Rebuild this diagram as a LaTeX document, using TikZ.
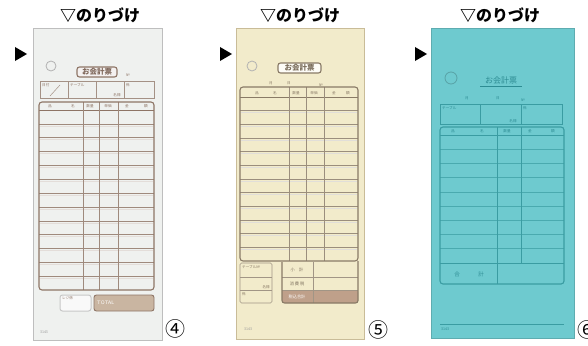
\documentclass[tikz,border=0pt]{standalone}
\usepackage{fontspec}
\newfontfamily\jp{Noto Sans CJK JP}
\definecolor{pfour}{HTML}{EFF1EF}
\definecolor{bfour}{HTML}{BEBEBE}
\definecolor{lfour}{HTML}{8E7566}
\definecolor{ffour}{HTML}{C9B5A1}
\definecolor{pfive}{HTML}{F2EBCB}
\definecolor{bfive}{HTML}{C9BC98}
\definecolor{lfive}{HTML}{897A66}
\definecolor{ffive}{HTML}{BFA08A}
\definecolor{psix}{HTML}{6ECACF}
\definecolor{lsix}{HTML}{3A9CA2}
\definecolor{tsix}{HTML}{2D8C93}
\tikzset{
  lab/.style={font=\jp\fontsize{3.6}{4}\selectfont, inner sep=0pt},
  ttl/.style={font=\jp\bfseries\fontsize{16}{16}\selectfont, inner sep=0pt},
  circnum/.style={font=\jp\fontsize{20}{20}\selectfont, inner sep=0pt},
  hole/.style={line width=0.8pt},
}
\begin{document}
\begin{tikzpicture}[x=1pt,y=-1pt]
\useasboundingbox (0,0) rectangle (588,345);
\fill[white] (0,0) rectangle (588,345);

% ---------------- titles and arrows
\node[ttl] (t4) at (100,15) {▽のりづけ};
\node[ttl] (t5) at (300,15) {▽のりづけ};
\node[ttl] (t6) at (500,15) {▽のりづけ};
\fill (15,47) -- (27,54) -- (15,61) -- cycle;
\fill (220,47) -- (232,54) -- (220,61) -- cycle;
\fill (415,47) -- (427,54) -- (415,61) -- cycle;

% ================= FORM 4
\draw[fill=pfour, draw=bfour, line width=0.6pt] (33,28) rectangle (162,340);
\draw[hole, draw=black!30] (51,66) circle (5);
\draw[lfour, line width=1.1pt, fill=white!90!lfour, rounded corners=2.5pt] (77,67) rectangle (117,77);
\node[font=\jp\bfseries\fontsize{7.5}{8}\selectfont, text=lfour!90!black, inner sep=0pt] (h4) at (97,72) {お会計票};
\node[lab, text=lfour] (no4) at (128,75) {№};
% info box
\draw[lfour!80, line width=0.6pt] (40,81) rectangle (154,98);
\foreach \x in {68,96,124} \draw[lfour!80, line width=0.6pt] (\x,81) -- (\x,98);
\draw[lfour!80, line width=0.5pt] (50,96) -- (60,85);
\node[lab, text=lfour, anchor=north west] (d4) at (42,83) {日付};
\node[lab, text=lfour, anchor=north west] (tb4) at (70,83) {テーブル};
\node[lab, text=lfour] (m4) at (117,95) {名様};
\node[lab, text=lfour, anchor=north west] (k4) at (126,83) {係};
% main table
\foreach \i in {1,...,12} \draw[lfour!25, line width=0.5pt] (40,{112+\i*13.85}) -- (153,{112+\i*13.85});
\foreach \i in {1,...,12} \draw[lfour!85, line width=0.6pt] (39,{110+\i*13.85}) -- (154,{110+\i*13.85});
\draw[lfour, line width=0.7pt] (39,110) -- (154,110);
\foreach \x in {83,99,118} \draw[lfour!85, line width=0.6pt] (\x,102) -- (\x,290);
\draw[lfour, line width=1.1pt, rounded corners=3pt] (39,102) rectangle (154,290);
\node[lab, text=lfour] (c41) at (50,106) {品};
\node[lab, text=lfour] (c42) at (73,106) {名};
\node[lab, text=lfour] (c43) at (90,106) {数量};
\node[lab, text=lfour] (c44) at (108,106) {単価};
\node[lab, text=lfour] (c45) at (127,106) {金};
\node[lab, text=lfour] (c46) at (146,106) {額};
% bottom
\draw[black!22, line width=1pt, rounded corners=2.5pt, fill=white!60!pfour] (60,295) rectangle (91,311);
\node[lab, text=lfour, anchor=north west] (r4) at (62,296) {レジ係};
\draw[lfour, line width=0.9pt, rounded corners=2.5pt, fill=ffour] (94,295) rectangle (154,311);
\node[font=\sffamily\fontsize{5}{5}\selectfont, text=white, inner sep=0pt, anchor=west] (tot4) at (97,303) {TOTAL};
\node[lab, text=black!40] (s4) at (44,332) {3143};
\node[circnum] (n4) at (175,329) {④};

% ================= FORM 5
\draw[fill=pfive, draw=bfive, line width=0.6pt] (236,28) rectangle (364,339);
\draw[hole, draw=black!30] (252,66) circle (5);
\draw[lfive, line width=1.1pt, fill=white!85!pfive, rounded corners=2.5pt] (278,63) rectangle (321,73);
\node[font=\jp\bfseries\fontsize{7.5}{8}\selectfont, text=lfive!90!black, inner sep=0pt] (h5) at (299.5,68) {お会計票};
\node[lab, text=lfive] (mo5) at (271,83) {月};
\node[lab, text=lfive] (da5) at (289,83) {日};
\node[lab, text=lfive] (no5) at (321,85) {№};
% main table
\foreach \i in {1,...,11} \draw[lfive!25, line width=0.5pt] (241,{99+\i*13.67}) -- (357,{99+\i*13.67});
\foreach \i in {1,...,11} \draw[lfive!85, line width=0.6pt] (240,{97+\i*13.67}) -- (358,{97+\i*13.67});
\draw[lfive, line width=0.7pt] (240,97) -- (358,97);
\foreach \x in {289,306,324} \draw[lfive!85, line width=0.6pt] (\x,87) -- (\x,261);
\draw[lfive, line width=1.1pt, rounded corners=3pt] (240,87) rectangle (358,261);
\node[lab, text=lfive] (c51) at (257,93) {品};
\node[lab, text=lfive] (c52) at (275,93) {名};
\node[lab, text=lfive] (c53) at (296,93) {数量};
\node[lab, text=lfive] (c54) at (314,93) {単価};
\node[lab, text=lfive] (c55) at (334,93) {金};
\node[lab, text=lfive] (c56) at (348,93) {額};
% bottom left box
\draw[lfive!80, line width=0.6pt, rounded corners=1.5pt] (240,263) rectangle (272,303);
\draw[lfive!80, line width=0.5pt] (240,277) -- (272,277);
\draw[lfive!80, line width=0.5pt] (240,290) -- (272,290);
\node[lab, text=lfive, anchor=north west] (tb5) at (242,265) {テーブル№};
\node[lab, text=lfive, anchor=south east] (m5) at (270,289) {名様};
\node[lab, text=lfive, anchor=north west] (k5) at (242,292) {係};
% bottom right box
\fill[ffive, rounded corners=2.5pt] (282,290) -- (282,303) -- (358,303) -- (358,290) -- cycle;
\fill[ffive] (282,290) rectangle (358,297);
\draw[lfive!80, line width=0.5pt] (282,277) -- (358,277);
\draw[lfive!80, line width=0.5pt] (282,290) -- (358,290);
\draw[lfive!80, line width=0.5pt] (313,262) -- (313,303);
\draw[lfive, line width=1.1pt, rounded corners=2.5pt] (282,262) -- (282,303) -- (358,303) -- (358,261);
\node[lab, text=lfive!90!black, font=\jp\fontsize{4.2}{5}\selectfont] (sk5) at (297,270) {小　計};
\node[lab, text=lfive!90!black, font=\jp\fontsize{4.2}{5}\selectfont] (tx5) at (297,283.5) {消 費 税};
\node[lab, text=white, font=\jp\fontsize{4.2}{5}\selectfont] (gk5) at (297,297) {税込合計};
\node[lab, text=black!40] (s5) at (248,329) {3143};
\node[circnum] (n5) at (378,330) {⑤};

% ================= FORM 6
\fill[psix] (431,28) rectangle (574,338);
\draw[psix!85!black, line width=0.4pt] (431,28) rectangle (574,338);
\draw[hole, draw=psix!80!black] (451,78) circle (6);
\node[font=\jp\fontsize{8}{8}\selectfont, text=tsix, inner sep=0pt] (h6) at (501,80) {お会計票};
\draw[tsix, line width=0.8pt] (480,86.5) -- (522,86.5);
\node[lab, text=tsix] (mo6) at (467,98) {月};
\node[lab, text=tsix] (da6) at (498,98) {日};
\node[lab, text=tsix] (no6) at (523,100) {№};
% info box
\draw[lsix, line width=0.5pt] (440,104) rectangle (562,124);
\draw[lsix, line width=0.5pt] (480,104) -- (480,124);
\draw[lsix, line width=0.5pt] (521,104) -- (521,124);
\node[lab, text=tsix, anchor=north west] (tb6) at (442,106) {テーブル};
\node[lab, text=tsix] (m6) at (513,121) {名様};
\node[lab, text=tsix, anchor=north west] (k6) at (523,106) {係};
% main table
\foreach \i in {1,...,8} \draw[lsix!70!psix, line width=0.6pt] (440,{135+\i*14.22}) -- (564,{135+\i*14.22});
\draw[lsix, line width=0.7pt] (440,135) -- (564,135);
\draw[lsix, line width=1pt] (440,263) -- (564,263);
\draw[lsix, line width=0.6pt] (497,127) -- (497,284);
\draw[lsix, line width=0.6pt] (521,127) -- (521,263);
\draw[lsix, line width=1.1pt, rounded corners=3pt] (440,127) rectangle (564,284);
\node[lab, text=tsix] (c61) at (453,131) {品};
\node[lab, text=tsix] (c62) at (482,131) {名};
\node[lab, text=tsix] (c63) at (507,131) {数量};
\node[lab, text=tsix] (c64) at (530,131) {金};
\node[lab, text=tsix] (c65) at (553,131) {額};
\node[lab, text=tsix, font=\jp\fontsize{5.5}{6}\selectfont] (gk6) at (457,274) {合};
\node[lab, text=tsix, font=\jp\fontsize{5.5}{6}\selectfont] (gk6b) at (481,274) {計};
\draw[lsix, line width=0.8pt] (440,324) -- (564,324);
\node[lab, text=tsix] (s6) at (445,329) {3143};
\node[circnum] (n6) at (587,330) {⑥};
\end{tikzpicture}
\end{document}
